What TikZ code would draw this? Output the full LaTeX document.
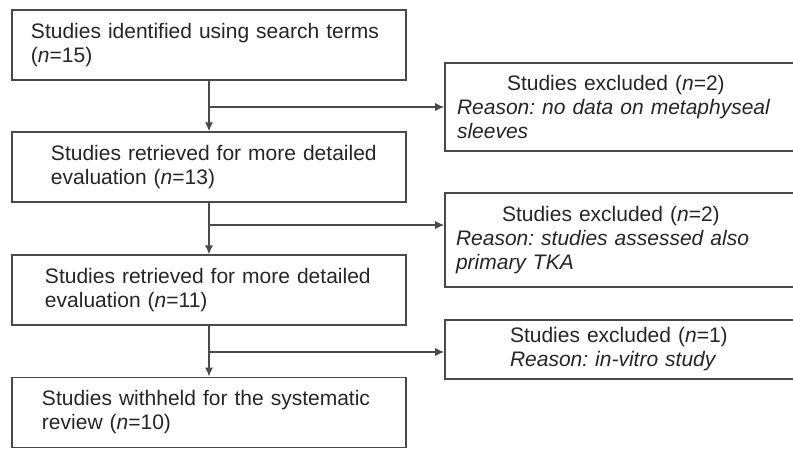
\documentclass[tikz,border=0pt]{standalone}
\usepackage{fontspec}
\setmainfont{Liberation Sans}
\usetikzlibrary{arrows.meta,positioning,calc}
\definecolor{linegray}{HTML}{4a4a4a}
\definecolor{textgray}{HTML}{262626}
\frenchspacing

\begin{document}
\begin{tikzpicture}[x=1pt, y=-1pt,
    stage/.style={draw=linegray, line width=1.6pt, inner sep=0pt,
                  text width=394pt, minimum height=70pt, align=left,
                  text=textgray, font=\fontsize{21}{24}\selectfont},
    excl/.style={draw=linegray, line width=1.6pt, inner sep=0pt,
                 text width=354pt, minimum height=#1, align=left,
                 text=textgray, font=\fontsize{21}{24}\selectfont},
    arr/.style={-{Latex[length=9pt,width=8pt]}, line width=1.3pt, linegray}
  ]
    \useasboundingbox (0,0) rectangle (793,450);
    \clip (0,0) rectangle (793,450);

    % main column
    \node[stage] (found) at (209,45)
      {\hspace*{19pt}Studies identified using search terms\\%
       \hspace*{19pt}(\textit{n}=15)};
    \node[stage, below=50.5pt of found] (retrA)
      {\hspace*{39pt}Studies retrieved for more detailed\\%
       \hspace*{39pt}evaluation (\textit{n}=13)};
    \node[stage, below=51.5pt of retrA] (retrB)
      {\hspace*{33pt}Studies retrieved for more detailed\\%
       \hspace*{33pt}evaluation (\textit{n}=11)};
    \node[stage, below=50.5pt of retrB] (kept)
      {\hspace*{30pt}Studies withheld for the systematic\\%
       \hspace*{30pt}review (\textit{n}=10)};

    % excluded studies
    \node[excl=88pt] (exA) at (622,107)
      {\hspace*{62pt}Studies excluded (\textit{n}=2)\\%
       \hspace*{12pt}\textit{Reason: no data on metaphyseal}\\%
       \hspace*{12pt}\textit{sleeves}};
    \node[excl=94pt] (exB) at (622,240)
      {\hspace*{57pt}Studies excluded (\textit{n}=2)\\%
       \hspace*{11pt}\textit{Reason: studies assessed also}\\%
       \hspace*{11pt}\textit{primary TKA}};
    \node[excl=59pt] (exC) at (622,349.5)
      {\hspace*{65pt}Studies excluded (\textit{n}=1)\\%
       \hspace*{65pt}\textit{Reason: in-vitro study}};

    \draw[arr] (found) -- (retrA);
    \draw[arr] (retrA) -- (retrB);
    \draw[arr] (retrB) -- (kept);

    \coordinate (jA) at (found.south |- exA.west);
    \coordinate (jB) at (retrA.south |- 0,225);
    \coordinate (jC) at (retrB.south |- 0,352);
    \draw[arr] (jA) -- (exA.west);
    \draw[arr] (jB) -- (jB -| exB.west);
    \draw[arr] (jC) -- (jC -| exC.west);
  \end{tikzpicture}
\end{document}
